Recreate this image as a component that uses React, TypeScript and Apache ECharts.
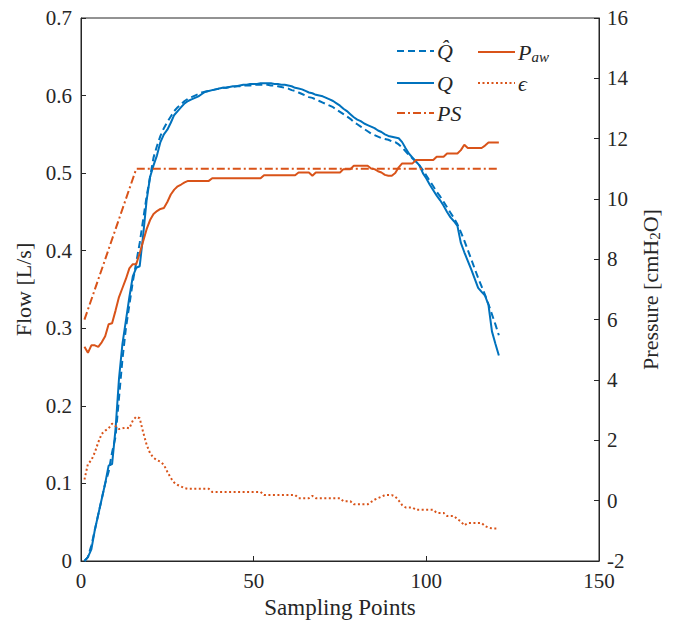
import React, { useEffect, useRef } from "react";
import * as echarts from "echarts";

const BLUE = "#0072BD";
const ORANGE = "#D95319";
const INK = "#262626";
const FONT = "Liberation Serif, serif";

const X_TICKS = [0, 50, 100, 150];

// Estimated flow Q̂ (dashed), L/s, samples 1..121
const QHAT = [
  0, 0.005, 0.02, 0.04, 0.06, 0.08, 0.1, 0.115, 0.14, 0.16,
  0.21, 0.26, 0.3, 0.33, 0.36, 0.385, 0.41, 0.44, 0.47, 0.495,
  0.52, 0.535, 0.548, 0.558, 0.566, 0.573, 0.58, 0.585, 0.589, 0.593,
  0.596, 0.598, 0.6, 0.602, 0.604, 0.605, 0.606, 0.607, 0.608, 0.609,
  0.61, 0.61, 0.611, 0.611, 0.612, 0.612, 0.613, 0.613, 0.613, 0.614,
  0.614, 0.614, 0.614, 0.614, 0.613, 0.613, 0.612, 0.611, 0.61, 0.609,
  0.607, 0.606, 0.604, 0.602, 0.6, 0.598, 0.597, 0.595, 0.593, 0.591,
  0.589, 0.587, 0.585, 0.582, 0.579, 0.576, 0.573, 0.57, 0.566, 0.563,
  0.56, 0.557, 0.554, 0.551, 0.549, 0.547, 0.545, 0.544, 0.543, 0.541,
  0.54, 0.537, 0.533, 0.528, 0.523, 0.519, 0.515, 0.51, 0.504, 0.497,
  0.49, 0.483, 0.476, 0.47, 0.463, 0.456, 0.449, 0.442, 0.434, 0.424,
  0.413, 0.401, 0.389, 0.377, 0.365, 0.354, 0.343, 0.331, 0.318, 0.305,
  0.291,
];

// Measured flow Q (solid), L/s
const Q = [
  0, 0.005, 0.015, 0.04, 0.06, 0.08, 0.1, 0.123, 0.125, 0.17,
  0.235, 0.28, 0.31, 0.34, 0.367, 0.378, 0.38, 0.42, 0.465, 0.495,
  0.51, 0.523, 0.54, 0.55, 0.556, 0.565, 0.575, 0.58, 0.585, 0.59,
  0.593, 0.595, 0.597, 0.599, 0.602, 0.605, 0.606, 0.607, 0.608, 0.609,
  0.61, 0.61, 0.611, 0.612, 0.612, 0.613, 0.614, 0.614, 0.615, 0.615,
  0.615, 0.616, 0.616, 0.616, 0.616, 0.615, 0.615, 0.614, 0.614, 0.613,
  0.612, 0.61, 0.609, 0.608, 0.606, 0.604, 0.603, 0.601, 0.6, 0.599,
  0.597, 0.595, 0.593, 0.59, 0.587, 0.583, 0.58, 0.576, 0.572, 0.569,
  0.567, 0.564, 0.562, 0.56, 0.558, 0.555, 0.553, 0.55, 0.548, 0.547,
  0.546, 0.545, 0.54, 0.532, 0.525, 0.52, 0.515, 0.51, 0.5, 0.493,
  0.485, 0.478, 0.471, 0.465, 0.458, 0.45, 0.443, 0.438, 0.432, 0.41,
  0.398, 0.387, 0.376, 0.364, 0.352, 0.347, 0.342, 0.33, 0.296, 0.28,
  0.265,
];

// Pressure support PS, cmH2O (break points)
const PS_X = [1, 16, 121];
const PS_VAL = [6, 11, 11];

// Airway pressure P_aw, cmH2O
const PAW = [
  5.1, 4.9, 5.15, 5.15, 5.1, 5.25, 5.45, 5.85, 5.88, 6.3,
  6.75, 7.05, 7.35, 7.7, 7.84, 7.84, 8.2, 8.6, 9.0, 9.3,
  9.5, 9.6, 9.67, 9.7, 9.9, 10.15, 10.31, 10.42, 10.48, 10.55,
  10.6, 10.6, 10.6, 10.6, 10.6, 10.6, 10.6, 10.69, 10.69, 10.69,
  10.69, 10.69, 10.69, 10.69, 10.69, 10.69, 10.69, 10.69, 10.69, 10.69,
  10.69, 10.69, 10.79, 10.79, 10.79, 10.79, 10.79, 10.79, 10.79, 10.79,
  10.79, 10.79, 10.88, 10.88, 10.88, 10.88, 10.77, 10.88, 10.88, 10.88,
  10.88, 10.88, 10.88, 10.88, 10.88, 10.99, 10.99, 10.99, 11.1, 11.1,
  11.1, 11.1, 11.1, 11.01, 10.99, 10.92, 10.88, 10.8, 10.77, 10.77,
  10.86, 11.05, 11.18, 11.18, 11.18, 11.18, 11.29, 11.29, 11.29, 11.29,
  11.29, 11.29, 11.4, 11.4, 11.4, 11.51, 11.51, 11.51, 11.51, 11.62,
  11.8, 11.69, 11.69, 11.69, 11.69, 11.69, 11.77, 11.87, 11.87, 11.87,
  11.87,
];

// Error epsilon (plotted on flow axis)
const EPS = [
  0.105, 0.125, 0.13, 0.14, 0.153, 0.164, 0.168, 0.171, 0.177, 0.174,
  0.17, 0.171, 0.172, 0.171, 0.181, 0.186, 0.184, 0.166, 0.15, 0.139,
  0.133, 0.13, 0.128, 0.124, 0.115, 0.107, 0.101, 0.098, 0.096, 0.094,
  0.093, 0.093, 0.093, 0.093, 0.093, 0.093, 0.093, 0.089, 0.089, 0.089,
  0.089, 0.089, 0.089, 0.089, 0.089, 0.089, 0.089, 0.089, 0.089, 0.089,
  0.089, 0.089, 0.085, 0.085, 0.085, 0.085, 0.085, 0.085, 0.085, 0.085,
  0.085, 0.085, 0.081, 0.081, 0.081, 0.081, 0.084, 0.081, 0.081, 0.081,
  0.081, 0.081, 0.081, 0.081, 0.081, 0.077, 0.077, 0.077, 0.073, 0.073,
  0.073, 0.073, 0.073, 0.076, 0.079, 0.081, 0.083, 0.085, 0.085, 0.085,
  0.083, 0.078, 0.072, 0.069, 0.069, 0.069, 0.066, 0.066, 0.066, 0.066,
  0.066, 0.066, 0.062, 0.062, 0.062, 0.058, 0.058, 0.058, 0.054, 0.051,
  0.046, 0.049, 0.049, 0.049, 0.049, 0.049, 0.045, 0.043, 0.042, 0.042,
  0.042,
];

const N_QHAT = "Q̂";
const N_Q = "Q";
const N_PS = "PS";
const N_PAW = "Paw";
const N_EPS = "ϵ";

const toPairs = (arr: number[]) => arr.map((v, i) => [i + 1, v]);

const legendRich = {
  m: { fontFamily: FONT, fontStyle: "italic", fontSize: 22, color: INK, lineHeight: 22 },
  sub: { fontFamily: FONT, fontStyle: "italic", fontSize: 15, color: INK, lineHeight: 22, padding: [9, 0, 0, 0] },
};

const legendLabel = (name: string) => {
  if (name === N_PAW) return "{m|P}{sub|aw}";
  return "{m|" + name + "}";
};

const makeLegend = (name: string, left: number, centerY: number) => ({
  data: [name],
  left,
  top: centerY - 11,
  padding: 0,
  itemWidth: 37,
  itemHeight: 14,
  itemGap: 0,
  selectedMode: false,
  formatter: legendLabel,
  itemStyle: { color: "rgba(0,0,0,0)", borderWidth: 0, opacity: 0 },
  textStyle: { fontFamily: FONT, rich: legendRich, padding: [0, 0, 0, -2] },
});

export default function App() {
  const ref = useRef<HTMLDivElement>(null);
  useEffect(() => {
    if (!ref.current) return;
    const chart = echarts.init(ref.current, undefined, { renderer: "svg" });
    const axisCommon = {
      axisLine: { show: true, lineStyle: { color: INK, width: 1 } },
      axisTick: { show: true, inside: true, length: 5, lineStyle: { color: INK } },
      splitLine: { show: false },
      nameLocation: "middle" as const,
    };
    const option: any = {
      animation: false,
      textStyle: { fontFamily: FONT },
      grid: {
        left: 81,
        right: 76,
        top: 18,
        bottom: 65,
        show: true,
        borderColor: INK,
        borderWidth: 1,
        backgroundColor: "transparent",
      },
      legend: [
        makeLegend(N_QHAT, 396, 51),
        makeLegend(N_Q, 396, 83),
        makeLegend(N_PS, 396, 113),
        makeLegend(N_PAW, 477, 51),
        makeLegend(N_EPS, 477, 83),
      ],
      xAxis: {
        type: "value",
        min: X_TICKS[0],
        max: X_TICKS[X_TICKS.length - 1],
        interval: 50,
        ...axisCommon,
        axisLabel: { color: INK, fontSize: 21, margin: 11, lineHeight: 18, fontFamily: FONT },
        name: "Sampling Points",
        nameGap: 35,
        nameTextStyle: { color: INK, fontSize: 23, fontFamily: FONT },
      },
      yAxis: [
        {
          type: "value",
          position: "left",
          min: 0,
          max: 0.7,
          interval: 0.1,
          ...axisCommon,
          axisLabel: {
            color: INK,
            fontSize: 21,
            margin: 9,
            fontFamily: FONT,
            formatter: (v: number) => (Math.abs(v) < 1e-9 ? "0" : v.toFixed(1)),
          },
          name: "Flow [L/s]",
          nameGap: 43,
          nameRotate: 90,
          nameTextStyle: { color: INK, fontSize: 22, fontFamily: FONT },
        },
        {
          type: "value",
          position: "right",
          min: -2,
          max: 16,
          interval: 2,
          ...axisCommon,
          axisLabel: { color: INK, fontSize: 21, margin: 8, lineHeight: 16, fontFamily: FONT },
          name: "{n|Pressure [cmH}{s|2}{n|O]}",
          nameGap: 37,
          nameRotate: 90,
          nameTextStyle: {
            color: INK,
            fontFamily: FONT,
            rich: {
              n: { fontSize: 22, fontFamily: FONT, color: INK, lineHeight: 24 },
              s: { fontSize: 15, fontFamily: FONT, color: INK, lineHeight: 24, padding: [9, 0, 0, 0] },
            },
          },
        },
      ],
      series: [
        {
          name: N_QHAT,
          type: "line",
          yAxisIndex: 0,
          data: toPairs(QHAT),
          symbol: "none",
          lineStyle: { color: BLUE, width: 2, type: [7, 4] },
          itemStyle: { color: BLUE },
        },
        {
          name: N_Q,
          type: "line",
          yAxisIndex: 0,
          data: toPairs(Q),
          symbol: "none",
          lineStyle: { color: BLUE, width: 2, type: "solid" },
          itemStyle: { color: BLUE },
        },
        {
          name: N_PS,
          type: "line",
          yAxisIndex: 1,
          data: PS_X.map((x, i) => [x, PS_VAL[i]]),
          symbol: "none",
          lineStyle: { color: ORANGE, width: 2, type: [8, 3, 2, 3] },
          itemStyle: { color: ORANGE },
        },
        {
          name: N_PAW,
          type: "line",
          yAxisIndex: 1,
          data: toPairs(PAW),
          symbol: "none",
          lineStyle: { color: ORANGE, width: 2, type: "solid" },
          itemStyle: { color: ORANGE },
        },
        {
          name: N_EPS,
          type: "line",
          yAxisIndex: 0,
          data: toPairs(EPS),
          symbol: "none",
          lineStyle: { color: ORANGE, width: 2, type: [2, 2.5], cap: "butt" },
          itemStyle: { color: ORANGE },
        },
      ],
    };
    chart.setOption(option);
    return () => chart.dispose();
  }, []);
  return <div ref={ref} style={{ width: 675, height: 626, position: "absolute", left: 0, top: 0 }} />;
}
